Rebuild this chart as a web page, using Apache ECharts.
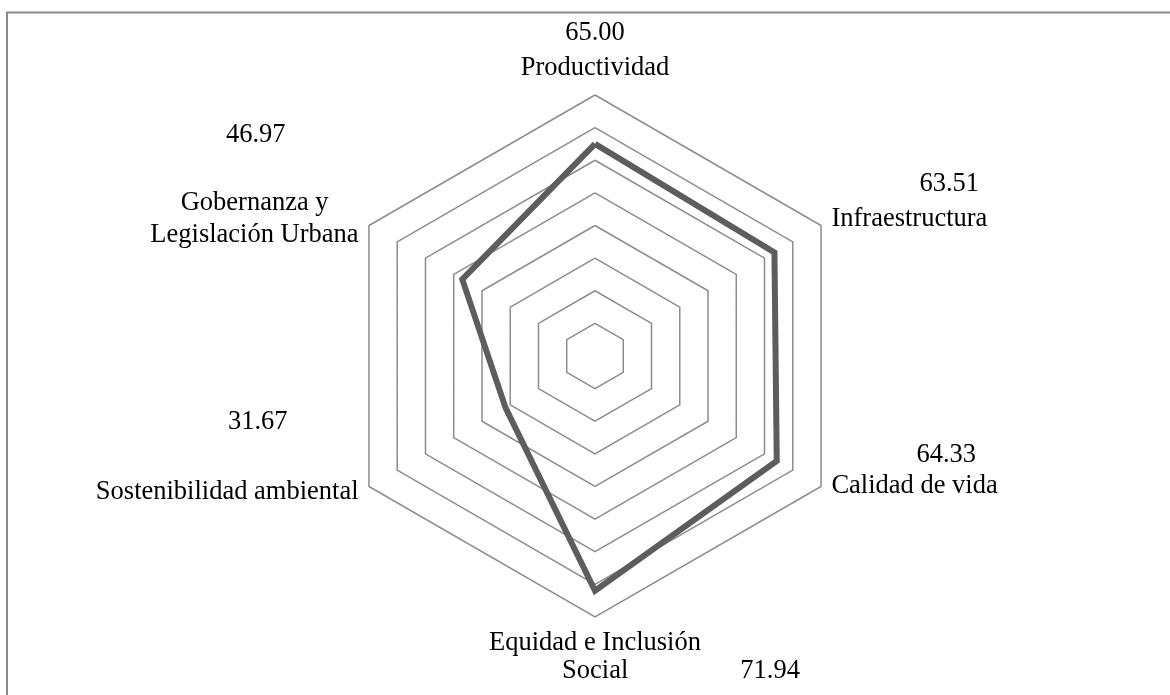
<!DOCTYPE html>
<html>
<head>
<meta charset="utf-8">
<script src="https://cdn.jsdelivr.net/npm/echarts@6/dist/echarts.min.js"></script>
<style>
  html, body { margin: 0; padding: 0; background: #fff; }
  #chart { width: 1170px; height: 695px; }
</style>
</head>
<body>
<div id="chart"></div>
<script>
// ejes en el orden de ECharts (desde arriba, sentido antihorario)
const categories = [
  'Productividad',
  'Gobernanza y\nLegislación Urbana',
  'Sostenibilidad ambiental',
  'Equidad e Inclusión\nSocial',
  'Calidad de vida',
  'Infraestructura'
];
const values = [65.00, 46.97, 31.67, 71.94, 64.33, 63.51];
const valueLabels = ['65.00', '46.97', '31.67', '71.94', '64.33', '63.51'];
const axisMax = 80;
const rings = 8;

const serif = 'Liberation Serif';
const txt = { fontFamily: serif, fontSize: 26.5, color: '#000' };

let chart = echarts.init(document.getElementById('chart'));

let option = {
  animation: false,
  backgroundColor: '#fff',
  graphic: [
    {
      // marco del área del gráfico
      type: 'rect',
      silent: true,
      z: -1,
      shape: { x: 7, y: 12.5, width: 1300, height: 900 },
      style: { fill: 'none', stroke: '#8a8a8a', lineWidth: 2 }
    }
  ],
  radar: {
    center: [595, 356],
    radius: 261,
    shape: 'polygon',
    splitNumber: rings,
    axisNameGap: 12,
    indicator: categories.map(function (c) { return { name: c, min: 0, max: axisMax }; }),
    axisLine: { show: false },
    axisTick: { show: false },
    axisLabel: { show: false },
    splitArea: { show: false },
    splitLine: { lineStyle: { color: '#8c8c8c', width: 1.5 } },
    axisName: {
      color: '#000',
      fontFamily: serif,
      fontSize: 26.5,
      formatter: function (name) {
        const i = categories.indexOf(name);
        const v = valueLabels[i];
        const lines = name.split('\n');
        switch (i) {
          case 0:
            return '{vTop|' + v + '}\n{n|' + lines[0] + '}';
          case 1:
            return '{vGob|' + v + '}\n{gob1|' + lines[0] + '}\n{gob2|' + lines[1] + '}\n{padGob| }';
          case 2:
            return '{vSos|' + v + '}\n{n|' + lines[0] + '}\n{padSos| }';
          case 3:
            return '{eq|' + lines[0] + '}\n{soc|' + lines[1] + '}{vEq|' + v + '}';
          case 4:
            return '{vCal|' + v + '}\n{n|' + lines[0] + '}\n{padCal| }';
          default:
            return '{vInf|' + v + '}\n{n|' + lines[0] + '}\n{padInf| }';
        }
      },
      rich: {
        n: Object.assign({ lineHeight: 30 }, txt),
        vTop: Object.assign({ lineHeight: 40 }, txt),
        vInf: Object.assign({ lineHeight: 41, padding: [0, 0, 0, 88] }, txt),
        padInf: Object.assign({ lineHeight: 41 }, txt),
        vCal: Object.assign({ lineHeight: 33, padding: [0, 0, 0, 85] }, txt),
        padCal: Object.assign({ lineHeight: 45 }, txt),
        vSos: Object.assign({ lineHeight: 110, padding: [0, 71, 0, 0] }, txt),
        padSos: Object.assign({ lineHeight: 110 }, txt),
        vGob: Object.assign({ lineHeight: 104, padding: [0, 73, 0, 0] }, txt),
        gob1: Object.assign({ lineHeight: 32, padding: [0, 30, 0, 0] }, txt),
        gob2: Object.assign({ lineHeight: 32 }, txt),
        padGob: Object.assign({ lineHeight: 104 }, txt),
        eq: Object.assign({ lineHeight: 28 }, txt),
        soc: Object.assign({ lineHeight: 28, padding: [0, 0, 0, 172] }, txt),
        vEq: Object.assign({ lineHeight: 28, padding: [0, 0, 0, 112] }, txt)
      }
    }
  },
  series: [
    {
      type: 'radar',
      silent: true,
      symbol: 'none',
      lineStyle: { color: '#5d5d5d', width: 6, join: 'miter' },
      itemStyle: { color: '#5d5d5d' },
      data: [{ value: values, name: 'Índice' }]
    }
  ]
};

chart.setOption(option);
</script>
</body>
</html>
